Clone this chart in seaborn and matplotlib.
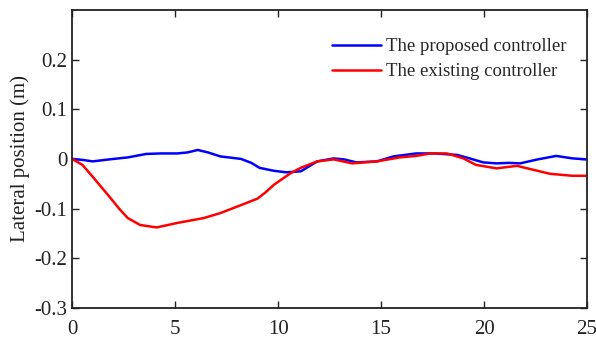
import numpy as np
import pandas as pd
import matplotlib
matplotlib.use("Agg")
import matplotlib.pyplot as plt
import seaborn as sns

# Datos
t_propuesto = [0, 0.5, 1.0, 1.8, 2.7, 3.6, 4.3, 5.1, 5.6, 6.1, 6.6, 7.2, 8.2, 8.7, 9.1, 9.8,
               10.4, 11.1, 11.9, 12.7, 13.2, 13.8, 14.8, 15.6, 16.7, 17.6, 18.7, 19.3, 19.96,
               20.6, 21.2, 21.75, 22.6, 23.5, 24.3, 25]
y_propuesto = [0, -0.002, -0.005, -0.001, 0.003, 0.01, 0.011, 0.011, 0.013, 0.018, 0.013, 0.005,
               0.0, -0.008, -0.018, -0.024, -0.027, -0.025, -0.005, 0.001, -0.001, -0.007,
               -0.005, 0.005, 0.011, 0.011, 0.008, 0.001, -0.007, -0.009, -0.008, -0.009,
               -0.001, 0.006, 0.001, -0.001]

t_existente = [0, 0.5, 1.0, 1.85, 2.3, 2.7, 3.3, 4.1, 5.1, 6.4, 7.2, 8.2, 9.0, 9.4, 9.8, 10.6,
               11.1, 11.9, 12.7, 13.6, 14.8, 15.9, 16.7, 17.4, 18.2, 19.0, 19.6, 20.6, 21.6,
               22.4, 23.2, 24.3, 25]
y_existente = [0, -0.012, -0.036, -0.078, -0.101, -0.119, -0.133, -0.138, -0.129, -0.119,
               -0.109, -0.093, -0.08, -0.067, -0.052, -0.029, -0.018, -0.005, -0.001, -0.009,
               -0.005, 0.003, 0.006, 0.011, 0.011, 0.001, -0.012, -0.019, -0.014, -0.022,
               -0.030, -0.034, -0.034]

etiquetas = ['The proposed controller', 'The existing controller']
colores = ['#0000ff', '#ff0000']

DF = pd.concat([
    pd.DataFrame({'t': t_propuesto, 'y': y_propuesto, 'serie': etiquetas[0]}),
    pd.DataFrame({'t': t_existente, 'y': y_existente, 'serie': etiquetas[1]}),
])

sns.set_style('ticks')
plt.rcParams['font.family'] = ['Liberation Serif', 'DejaVu Serif']

fig = plt.figure(figsize=(5.96, 3.41), dpi=100)
ax = fig.add_axes([0.121, 0.097, 0.864, 0.874])
sns.lineplot(data=DF, x='t', y='y', hue='serie', palette=colores, linewidth=1.8,
             sort=False, ax=ax)

ax.set_xlim(0, 25)
ax.set_ylim(-0.3, 0.3)
ax.set_xticks([0, 5, 10, 15, 20, 25])
ax.set_yticks([-0.3, -0.2, -0.1, 0, 0.1, 0.2])
ax.set_yticklabels(['-0.3', '-0.2', '-0.1', '0', '0.1', '0.2'])
ax.set_xlabel('')
ax.set_ylabel('Lateral position (m)', fontsize=15, color='#222222', labelpad=3)
ax.tick_params(direction='in', top=True, right=True, labelsize=15, length=5,
               width=1, colors='#222222', labelcolor='#222222')
ax.tick_params(axis='x', pad=9)
for s in ax.spines.values():
    s.set_visible(True)
    s.set_linewidth(1.3)
    s.set_color('#222222')

ax.legend(loc='upper right', frameon=False, fontsize=13.5, handlelength=2.6,
          borderaxespad=0, labelspacing=0.42, handletextpad=0.25,
          bbox_to_anchor=(0.974, 0.93))

fig.savefig('out.png', dpi=100)
